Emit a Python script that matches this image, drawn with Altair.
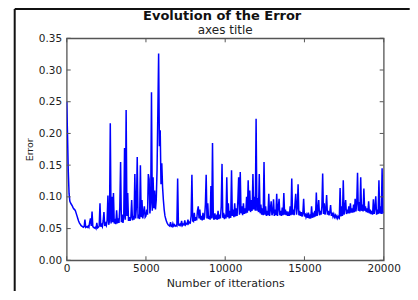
import altair as alt
import pandas as pd

# Error values, one list per 1000 iterations (step 50)
e00 = [0.250, 0.200, 0.140, 0.105, 0.093, 0.090, 0.088, 0.086, 0.083, 0.081, 0.080, 0.078, 0.074, 0.070, 0.066, 0.062, 0.059, 0.057, 0.055, 0.054]
e01 = [0.053, 0.052, 0.053, 0.064, 0.052, 0.053, 0.052, 0.054, 0.052, 0.060, 0.066, 0.054, 0.077, 0.053, 0.052, 0.051, 0.052, 0.050, 0.059, 0.051]
e02 = [0.052, 0.054, 0.090, 0.053, 0.056, 0.053, 0.062, 0.076, 0.054, 0.058, 0.055, 0.063, 0.102, 0.056, 0.062, 0.216, 0.058, 0.100, 0.060, 0.106]
e03 = [0.058, 0.062, 0.057, 0.079, 0.058, 0.066, 0.059, 0.083, 0.155, 0.060, 0.072, 0.059, 0.068, 0.177, 0.064, 0.237, 0.070, 0.106, 0.062, 0.068]
e04 = [0.062, 0.068, 0.095, 0.063, 0.070, 0.064, 0.136, 0.066, 0.085, 0.163, 0.066, 0.072, 0.065, 0.150, 0.068, 0.095, 0.066, 0.075, 0.085, 0.068]
e05 = [0.070, 0.080, 0.072, 0.136, 0.128, 0.074, 0.090, 0.265, 0.078, 0.131, 0.082, 0.110, 0.080, 0.095, 0.142, 0.232, 0.326, 0.180, 0.205, 0.120]
e06 = [0.153, 0.115, 0.095, 0.080, 0.070, 0.065, 0.061, 0.058, 0.056, 0.055, 0.054, 0.060, 0.054, 0.053, 0.058, 0.054, 0.056, 0.054, 0.055, 0.054]
e07 = [0.129, 0.056, 0.055, 0.057, 0.055, 0.062, 0.055, 0.057, 0.056, 0.063, 0.056, 0.058, 0.057, 0.064, 0.058, 0.060, 0.059, 0.070, 0.135, 0.062]
e08 = [0.061, 0.075, 0.062, 0.068, 0.063, 0.078, 0.085, 0.066, 0.080, 0.064, 0.070, 0.063, 0.075, 0.064, 0.068, 0.088, 0.135, 0.066, 0.090, 0.065]
e09 = [0.070, 0.064, 0.117, 0.066, 0.185, 0.068, 0.064, 0.074, 0.065, 0.069, 0.064, 0.078, 0.065, 0.072, 0.066, 0.085, 0.152, 0.067, 0.075, 0.065]
e10 = [0.072, 0.066, 0.131, 0.068, 0.090, 0.066, 0.078, 0.067, 0.142, 0.070, 0.080, 0.068, 0.090, 0.069, 0.082, 0.070, 0.095, 0.131, 0.072, 0.139]
e11 = [0.074, 0.085, 0.071, 0.090, 0.073, 0.082, 0.074, 0.100, 0.075, 0.126, 0.078, 0.110, 0.076, 0.095, 0.078, 0.136, 0.080, 0.100, 0.078, 0.223]
e12 = [0.078, 0.098, 0.076, 0.136, 0.074, 0.088, 0.072, 0.082, 0.071, 0.155, 0.072, 0.085, 0.070, 0.078, 0.071, 0.105, 0.070, 0.080, 0.093, 0.071]
e13 = [0.075, 0.096, 0.070, 0.080, 0.071, 0.105, 0.070, 0.082, 0.097, 0.071, 0.078, 0.070, 0.083, 0.071, 0.106, 0.072, 0.080, 0.071, 0.077, 0.070]
e14 = [0.074, 0.070, 0.085, 0.071, 0.129, 0.072, 0.080, 0.071, 0.088, 0.105, 0.072, 0.083, 0.120, 0.071, 0.078, 0.070, 0.076, 0.069, 0.074, 0.097]
e15 = [0.069, 0.074, 0.068, 0.072, 0.067, 0.075, 0.066, 0.070, 0.066, 0.085, 0.067, 0.072, 0.068, 0.078, 0.069, 0.107, 0.070, 0.080, 0.095, 0.071]
e16 = [0.078, 0.072, 0.085, 0.137, 0.073, 0.090, 0.072, 0.080, 0.103, 0.072, 0.078, 0.071, 0.076, 0.087, 0.070, 0.075, 0.069, 0.073, 0.068, 0.071]
e17 = [0.067, 0.070, 0.066, 0.069, 0.067, 0.114, 0.069, 0.085, 0.070, 0.126, 0.072, 0.082, 0.095, 0.073, 0.080, 0.074, 0.085, 0.074, 0.090, 0.075]
e18 = [0.082, 0.075, 0.088, 0.076, 0.097, 0.077, 0.090, 0.138, 0.078, 0.092, 0.077, 0.131, 0.078, 0.088, 0.077, 0.113, 0.078, 0.085, 0.076, 0.082]
e19 = [0.075, 0.093, 0.074, 0.080, 0.073, 0.078, 0.072, 0.096, 0.073, 0.082, 0.101, 0.072, 0.080, 0.073, 0.126, 0.074, 0.085, 0.073, 0.145, 0.075]
e_end = [0.076]

x_ticks = [0, 5000, 10000, 15000, 20000]
y_ticks = [0.0, 0.05, 0.10, 0.15, 0.20, 0.25, 0.30, 0.35]

errors = (e00 + e01 + e02 + e03 + e04 + e05 + e06 + e07 + e08 + e09 + e10
          + e11 + e12 + e13 + e14 + e15 + e16 + e17 + e18 + e19 + e_end)
iterations = list(range(0, 20001, 50))
df = pd.DataFrame({"iter": iterations, "err": errors})
df_xt = pd.DataFrame({"iter": x_ticks})
df_yt = pd.DataFrame({"err": y_ticks})
df_one = pd.DataFrame({"k": [0]})

W, H = 317, 222
PAD = {"left": 58.7, "top": 30.3, "right": 26, "bottom": 31}
FONT = "DejaVu Sans"
GRAY = "#555555"
xs = alt.Scale(domain=[0, 20000], nice=False, zero=False)
ys = alt.Scale(domain=[0, 0.35], nice=False)

x_axis = alt.Axis(values=x_ticks, title="Number of itterations", format="d",
                  labelPadding=3, labelFlush=False, titleY=23.5,
                  titleBaseline="middle", titleFontSize=11)
y_axis = alt.Axis(values=y_ticks, format=".2f", title="Error", labelPadding=5,
                  titleX=-37.5, titleY=H / 2, titleBaseline="middle", titleFontSize=9.5)

line = alt.Chart(df).mark_line(color="#0000ff", strokeWidth=1.5, clip=True).encode(
    x=alt.X("iter:Q", scale=xs, axis=x_axis),
    y=alt.Y("err:Q", scale=ys, axis=y_axis),
)

tick_top = alt.Chart(df_xt).mark_rule(color=GRAY, strokeWidth=1).encode(
    x=alt.X("iter:Q", scale=xs, axis=x_axis), y=alt.value(0), y2=alt.value(4))
tick_bot = alt.Chart(df_xt).mark_rule(color=GRAY, strokeWidth=1).encode(
    x=alt.X("iter:Q", scale=xs, axis=x_axis), y=alt.value(H), y2=alt.value(H - 4))
tick_left = alt.Chart(df_yt).mark_rule(color=GRAY, strokeWidth=1).encode(
    y=alt.Y("err:Q", scale=ys, axis=y_axis), x=alt.value(0), x2=alt.value(4))
tick_right = alt.Chart(df_yt).mark_rule(color=GRAY, strokeWidth=1).encode(
    y=alt.Y("err:Q", scale=ys, axis=y_axis), x=alt.value(W), x2=alt.value(W - 4))

# figure border (top and left edges, as in the reference)
frame_top = alt.Chart(df_one).mark_rule(color="#111111", strokeWidth=2).encode(
    x=alt.value(-52), x2=alt.value(W + PAD["right"]), y=alt.value(-29.3))
frame_left = alt.Chart(df_one).mark_rule(color="#111111", strokeWidth=2).encode(
    x=alt.value(-52), y=alt.value(-29.3), y2=alt.value(H + PAD["bottom"]))

title_main = alt.Chart(df_one).mark_text(
    text="Evolution of the Error", font=FONT, fontSize=13, fontWeight="bold",
    color="#111111", align="center", baseline="alphabetic").encode(
    x=alt.value(155.5), y=alt.value(-18.5))
title_sub = alt.Chart(df_one).mark_text(
    text="axes title", font=FONT, fontSize=12, color="#222222",
    align="center", baseline="alphabetic").encode(
    x=alt.value(W / 2), y=alt.value(-4))

chart = alt.layer(frame_top, frame_left, line, tick_top, tick_bot, tick_left, tick_right,
                  title_main, title_sub).properties(
    width=W, height=H,
    autosize=alt.AutoSizeParams(type="none"),
    padding=PAD,
).configure_axis(
    labelFont=FONT, titleFont=FONT, labelColor="#222222", titleColor="#222222",
    labelFontSize=10.5, titleFontWeight="normal", grid=False, domain=False, ticks=False,
).configure_view(stroke=GRAY, strokeWidth=1.3)

chart.save("out.html", embed_options={"renderer": "svg", "actions": False})
